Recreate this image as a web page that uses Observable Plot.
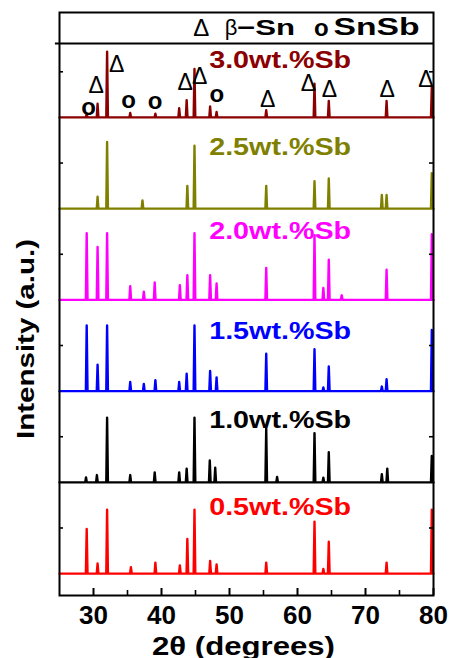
<!DOCTYPE html>
<html><head><meta charset="utf-8">
<script src="https://cdn.jsdelivr.net/npm/d3@7"></script>
<script src="https://cdn.jsdelivr.net/npm/@observablehq/plot@0.6"></script>
<style>body{margin:0;background:#fff}#chart{width:450px;height:658px}</style>
</head><body><div id="chart"></div>
<script>
// Series (bottom to top) and colours
const seriesNames = ["0.5wt.%Sb", "1.0wt.%Sb", "1.5wt.%Sb", "2.0wt.%Sb", "2.5wt.%Sb", "3.0wt.%Sb"];
const seriesColors = ["#ff0000", "#000000", "#0000ff", "#ff00ff", "#808000", "#8b0000"];

// Peak lists: [2θ, relative intensity above the trace's baseline]
const peaks05 = [[29.0,.49],[30.6,.11],[32.0,.70],[35.5,.07],[39.1,.12],[42.7,.09],[43.8,.38],[44.85,.70],[47.15,.14],[48.1,.10],[55.4,.12],[62.5,.57],[63.8,.05],[64.6,.35],[73.1,.12],[79.75,.70]];
const peaks10 = [[28.9,.055],[30.5,.08],[32.0,.71],[35.4,.08],[39.0,.11],[42.6,.11],[43.7,.15],[44.85,.71],[47.1,.24],[47.9,.16],[55.4,.59],[57.0,.06],[62.5,.54],[63.8,.05],[64.6,.33],[72.4,.09],[73.2,.15],[79.75,.29]];
const peaks15 = [[29.0,.72],[30.6,.29],[32.0,.72],[35.4,.10],[37.4,.08],[39.1,.12],[42.6,.10],[43.7,.19],[44.85,.72],[47.15,.22],[48.1,.15],[55.4,.41],[62.5,.46],[63.8,.04],[64.6,.27],[72.4,.05],[73.1,.13],[79.75,.67]];
const peaks20 = [[29.0,.73],[30.6,.58],[32.0,.73],[35.4,.15],[37.4,.09],[39.0,.19],[42.7,.16],[43.8,.27],[44.85,.73],[47.15,.27],[48.1,.18],[55.4,.35],[62.5,.71],[63.8,.13],[64.6,.44],[66.5,.05],[73.1,.33],[79.75,.72]];
const peaks25 = [[30.6,.13],[32.0,.73],[37.2,.09],[43.8,.25],[44.85,.69],[55.4,.25],[62.5,.30],[64.6,.33],[72.4,.15],[73.1,.15],[79.75,.39]];
const peaks30 = [[29.0,.04],[30.6,.15],[32.0,.72],[35.4,.05],[39.1,.04],[42.6,.10],[43.7,.19],[44.85,.53],[47.15,.12],[48.1,.06],[55.4,.08],[62.5,.37],[64.6,.18],[73.1,.18],[79.75,.33]];
const peakLists = [peaks05, peaks10, peaks15, peaks20, peaks25, peaks30];

// Phase markers above the 3.0wt.% pattern: [2θ, height above its baseline]
const betaSnMarks = [[30.4,.35],[33.4,.58],[43.5,.38],[45.6,.45],[55.6,.20],[61.6,.37],[64.7,.30],[73.2,.30],[78.9,.41]];
const snSbMarks = [[29.26,.11],[35.15,.19],[39.07,.18],[48.15,.25]];

// Series label placement (2θ centre, height above baseline)
const labelX = 57.45;
const labelLift = [.73, .68, .66, .75, .67, .63];

// Axis ticks
const xTicks = [30, 40, 50, 60, 70, 80];
const xMinorTicks = [35, 45, 55, 65, 75];
const yTicks = [0.5, 1.5, 2.5, 3.5, 4.5, 5.5];

const xDomain = [25, 80];
const yDomain = [-0.24, 6.15];
const pxPerX = 374 / 55, pxPerY = 583 / (yDomain[1] - yDomain[0]);

// Build traces: each peak is a narrow spike on a flat baseline, stacked by series index
const halfW = 0.12;
const lineData = [];
peakLists.forEach((pk, i) => {
  const s = seriesNames[i];
  lineData.push({series: s, x: xDomain[0], y: i});
  pk.forEach(([p, h]) => {
    lineData.push({series: s, x: p - halfW, y: i});
    lineData.push({series: s, x: p, y: i + h});
    lineData.push({series: s, x: Math.min(p + halfW, xDomain[1]), y: i});
  });
  lineData.push({series: s, x: xDomain[1], y: i});
});
const labelData = seriesNames.map((s, i) => ({series: s, x: labelX, y: i + labelLift[i]}));

const legendY = 5.98;
const font = "Liberation Sans, Arial, Helvetica, sans-serif";

const chart = Plot.plot({
  width: 450, height: 658,
  marginLeft: 59, marginRight: 17, marginTop: 12, marginBottom: 63,
  style: {fontFamily: font, background: "white", color: "black"},
  x: {domain: xDomain, axis: null},
  y: {domain: yDomain, axis: null},
  color: {domain: seriesNames, range: seriesColors},
  marks: [
    Plot.line(lineData, {x: "x", y: "y", z: "series", stroke: "series", strokeWidth: 2.4, strokeLinejoin: "round"}),
    Plot.text(labelData, {x: "x", y: "y", text: "series", fill: "series", fontSize: 24, fontWeight: "bold"}),
    Plot.text(betaSnMarks, {x: d => d[0], y: d => 5 + d[1], text: () => "Δ", fontSize: 23, fill: "black"}),
    Plot.text(snSbMarks, {x: d => d[0], y: d => 5 + d[1], text: () => "o", fontSize: 24, fontWeight: "bold", fill: "black"}),
    // legend header
    Plot.ruleY([5.81], {x1: 24.4, x2: 80, strokeWidth: 2}),
    Plot.text(["Δ"], {x: 45.84, y: legendY, fontSize: 24, fill: "black"}),
    Plot.text(["β"], {x: 49.3, y: legendY, fontSize: 22, textAnchor: "start", fill: "black"}),
    Plot.text(["−Sn"], {x: 51.1, y: legendY, fontSize: 22, fontWeight: "bold", textAnchor: "start", fill: "black"}),
    Plot.text(["o"], {x: 63.5, y: legendY, fontSize: 24, fontWeight: "bold", fill: "black"}),
    Plot.text(["SnSb"], {x: 65.3, y: legendY, fontSize: 23, fontWeight: "bold", textAnchor: "start", fill: "black"}),
    // ticks (inward)
    Plot.ruleX(xTicks, {y1: yDomain[0], y2: yDomain[0] + 7 / pxPerY, strokeWidth: 2}),
    Plot.ruleX(xMinorTicks, {y1: yDomain[0], y2: yDomain[0] + 5 / pxPerY, strokeWidth: 1.6}),
    Plot.ruleY(yTicks, {x1: xDomain[0], x2: xDomain[0] + 4 / pxPerX, strokeWidth: 1.6}),
    Plot.ruleY(yTicks, {x1: xDomain[1] - 4 / pxPerX, x2: xDomain[1], strokeWidth: 1.6}),
    Plot.axisX({ticks: xTicks, tickSize: 0, tickPadding: 10, fontSize: 26, fontWeight: "bold", label: null}),
    Plot.text(["2θ (degrees)"], {frameAnchor: "bottom", lineAnchor: "middle", dx: -3, dy: 51, fontSize: 25, fontWeight: "bold", fill: "black"}),
    Plot.text(["Intensity (a.u.)"], {frameAnchor: "left", textAnchor: "middle", lineAnchor: "middle", dx: -33, dy: 35, rotate: -90, fontSize: 24, fontWeight: "bold", fill: "black"}),
    Plot.frame({stroke: "black", strokeWidth: 2})
  ]
});

// stretch texts to the widths measured on the reference
const textLengths = {"SnSb": 86, "−Sn": 58, "2θ (degrees)": 183, "Intensity (a.u.)": 200};
seriesNames.forEach(s => textLengths[s] = 142);
d3.select(chart).selectAll("text").each(function() {
  const t = this.textContent;
  if (textLengths[t] && this.childElementCount === 0) {
    this.setAttribute("textLength", textLengths[t]);
    this.setAttribute("lengthAdjust", "spacingAndGlyphs");
  }
});
document.getElementById("chart").appendChild(chart);
</script>
</body></html>
